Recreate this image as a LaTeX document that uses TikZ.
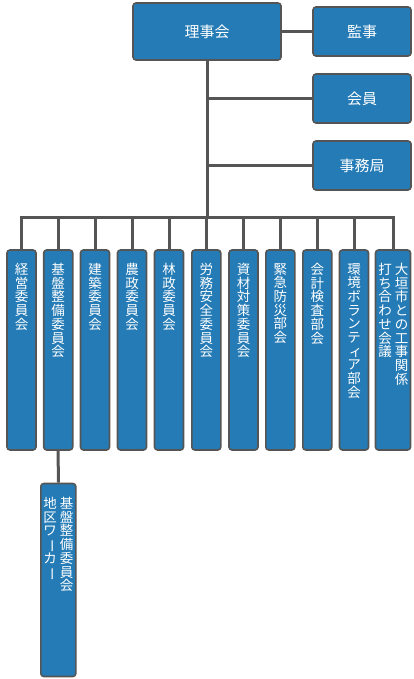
\documentclass[tikz,border=0pt]{standalone}
\usepackage{fontspec}
\usepackage{graphicx}
\newfontfamily\cjk{Noto Sans CJK JP}
\definecolor{boxblue}{RGB}{36,123,182}
\definecolor{linegray}{RGB}{85,85,85}
\newcommand{\vchou}{\makebox[1em]{\smash{\rotatebox[origin=c]{-90}{ー}}}}
\newcommand{\smallI}{\makebox[1em][l]{\hspace{0.12em}ィ}}
\tikzset{
  box/.style={draw=linegray, line width=1.6pt, fill=boxblue, rounded corners=3pt, inner sep=0pt},
  topbox/.style={box, text=white, font=\cjk\fontsize{15}{18}\selectfont},
  colbox/.style={box, minimum width=29pt, minimum height=200pt},
  vtext/.style={text=white, font=\cjk\fontsize{13.5}{13.7}\selectfont, align=center, inner sep=0pt, anchor=north},
  conn/.style={draw=linegray, line width=3pt},
}
\begin{document}
\begin{tikzpicture}[x=1pt,y=-1pt]
\useasboundingbox (0,0) rectangle (414,679);
% top
\node[topbox, minimum width=148pt, minimum height=57pt] (rij) at (207,31.5) {理事会};
\node[topbox, minimum width=98pt, minimum height=49pt] (kanji) at (362,31.5) {監事};
\node[topbox, minimum width=98pt, minimum height=49pt] (kaiin) at (362,98.5) {会員};
\node[topbox, minimum width=98pt, minimum height=49pt] (jimu) at (362,165.5) {事務局};
% columns
\node[colbox] (c1) at (21.5,350) {};
\node[colbox] (c2) at (58.2,350) {};
\node[colbox] (c3) at (95,350) {};
\node[colbox] (c4) at (132,350) {};
\node[colbox] (c5) at (169,350) {};
\node[colbox] (c6) at (206.3,350) {};
\node[colbox] (c7) at (243.5,350) {};
\node[colbox] (c8) at (280.3,350) {};
\node[colbox] (c9) at (317.3,350) {};
\node[colbox] (c10) at (354,350) {};
\node[colbox, minimum width=35pt] (c11) at (393,350) {};
\node[box, minimum width=35pt, minimum height=193pt] (sub) at (58.3,580) {};
% texts
\node[vtext] (t1) at (21.5,263) {経\\営\\委\\員\\会};
\node[vtext] (t2) at (58.2,263) {基\\盤\\整\\備\\委\\員\\会};
\node[vtext] (t3) at (95,263) {建\\築\\委\\員\\会};
\node[vtext] (t4) at (132,263) {農\\政\\委\\員\\会};
\node[vtext] (t5) at (169,263) {林\\政\\委\\員\\会};
\node[vtext] (t6) at (206.3,263) {労\\務\\安\\全\\委\\員\\会};
\node[vtext] (t7) at (243.5,263) {資\\材\\対\\策\\委\\員\\会};
\node[vtext] (t8) at (280.3,263) {緊\\急\\防\\災\\部\\会};
\node[vtext] (t9) at (317.3,263) {会\\計\\検\\査\\部\\会};
\node[vtext] (t10) at (354,263) {環\\境\\ボ\\ラ\\ン\\テ\\\smallI\\ア\\部\\会};
\node[vtext] (t11a) at (401.5,263) {大\\垣\\市\\と\\の\\工\\事\\関\\係};
\node[vtext] (t11b) at (385,263) {打\\ち\\合\\わ\\せ\\会\\議};
\node[vtext] (ts1) at (66.7,497) {基\\盤\\整\\備\\委\\員\\会};
\node[vtext] (ts2) at (50,497) {地\\区\\ワ\\\vchou\\カ\\\vchou};
% connectors
\coordinate (bus) at (207,217);
\draw[conn] (rij.east) -- (kanji.west);
\draw[conn] (rij.south) -- (bus);
\draw[conn] (rij.south |- kaiin.west) -- (kaiin.west);
\draw[conn] (rij.south |- jimu.west) -- (jimu.west);
\draw[conn] (c1.north) -- (c1.north |- bus) -- (c11.north |- bus) -- (c11.north);
\foreach \i in {2,...,10} { \draw[conn] (c\i.north) -- (c\i.north |- bus); }
\draw[conn] (c2.south) -- (sub.north);
\end{tikzpicture}
\end{document}
